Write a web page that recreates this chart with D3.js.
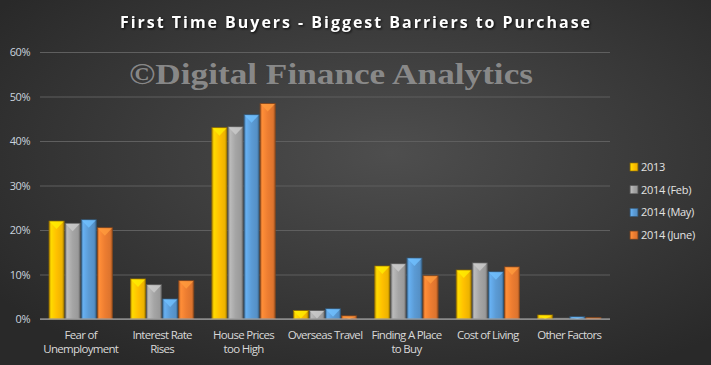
<!DOCTYPE html>
<html>
<head>
<meta charset="utf-8">
<script src="https://cdn.jsdelivr.net/npm/d3@7"></script>
<style>
  body { margin: 0; background: #2b2b2b; }
  svg { display: block; }
</style>
</head>
<body>
<div class="chart"></div>
<script>
const categories = [
  ["Fear of", "Unemployment"],
  ["Interest Rate", "Rises"],
  ["House Prices", "too High"],
  ["Overseas Travel"],
  ["Finding A Place", "to Buy"],
  ["Cost of Living"],
  ["Other Factors"]
]
const seriesNames = ["2013", "2014 (Feb)", "2014 (May)", "2014 (June)"]
const s2013 = [22.0, 9.0, 43.0, 1.9, 11.9, 11.0, 0.9]
const sFeb  = [21.5, 7.7, 43.2, 1.9, 12.4, 12.6, 0.2]
const sMay  = [22.3, 4.5, 45.9, 2.3, 13.7, 10.6, 0.5]
const sJune = [20.5, 8.6, 48.4, 0.7, 9.7, 11.7, 0.3]
const yTicks = [0, 10, 20, 30, 40, 50, 60]

const seriesValues = [s2013, sFeb, sMay, sJune]
const colors = ["#FFC000", "#A5A5A5", "#5B9BD5", "#ED7D31"]

const width = 711, height = 365
const margin = {top: 52, right: 101, bottom: 46, left: 40}

const svg = d3.select(".chart").append("svg")
  .attr("width", width)
  .attr("height", height)

const defs = svg.append("defs")

const bg = defs.append("radialGradient").attr("id", "bg")
  .attr("cx", "55%").attr("cy", "42%").attr("r", "68%")
bg.append("stop").attr("offset", "0%").attr("stop-color", "#4e4e4e")
bg.append("stop").attr("offset", "100%").attr("stop-color", "#292929")

colors.forEach((c, i) => {
  const g = defs.append("linearGradient").attr("id", "bar" + i)
    .attr("x1", "0%").attr("x2", "100%").attr("y1", "0%").attr("y2", "0%")
  const col = d3.color(c)
  g.append("stop").attr("offset", "0%").attr("stop-color", col.darker(0.8))
  g.append("stop").attr("offset", "14%").attr("stop-color", col.brighter(0.35))
  g.append("stop").attr("offset", "50%").attr("stop-color", c)
  g.append("stop").attr("offset", "86%").attr("stop-color", col.darker(0.2))
  g.append("stop").attr("offset", "100%").attr("stop-color", col.darker(1.1))
})

svg.append("rect")
  .attr("width", width)
  .attr("height", height)
  .attr("fill", "url(#bg)")

let xScale = d3.scaleBand()
  .domain(d3.range(categories.length))
  .range([margin.left, width - margin.right])
  .paddingInner(0.21)
  .paddingOuter(0.105)

let xInner = d3.scaleBand()
  .domain(d3.range(seriesNames.length))
  .range([0, xScale.bandwidth()])

let yScale = d3.scaleLinear().domain([0, 60]).range([height - margin.bottom, margin.top])

// gridlines + y labels
let yaxis = svg.append("g")
  .attr("class", "y axis")
  .attr("transform", "translate(" + margin.left + ",0)")
  .call(d3.axisLeft(yScale)
    .tickValues(yTicks)
    .tickFormat(d => d + "%")
    .tickSizeInner(-(width - margin.left - margin.right))
    .tickSizeOuter(0)
    .tickPadding(10))
yaxis.select(".domain").remove()
yaxis.selectAll(".tick line").attr("stroke", "#5f5f5f").attr("stroke-width", 1)
yaxis.selectAll("text")
  .attr("fill", "#c9d3de")
  .style("font-family", "'Open Sans', sans-serif")
  .style("font-size", "11px")
  .style("letter-spacing", "-0.5px")

// watermark
svg.append("text")
  .attr("x", 331)
  .attr("y", 84)
  .attr("text-anchor", "middle")
  .attr("fill", "#939393")
  .attr("fill-opacity", 0.9)
  .style("font-family", "'Liberation Serif', serif")
  .style("font-weight", "bold")
  .style("font-size", "30px")
  .attr("textLength", 404)
  .attr("lengthAdjust", "spacingAndGlyphs")
  .text("\u00A9Digital Finance Analytics")

// bars
const groups = svg.append("g").selectAll("g")
  .data(categories.map((c, i) => i))
  .join("g")
  .attr("transform", i => "translate(" + xScale(i) + ",0)")

groups.each(function(ci) {
  const g = d3.select(this)
  seriesValues.forEach((vals, si) => {
    const x = xInner(si), w = xInner.bandwidth()
    const y = yScale(vals[ci]), y0 = yScale(0)
    const h = y0 - y
    const col = d3.color(colors[si])
    g.append("rect")
      .attr("x", x + 0.5)
      .attr("y", y)
      .attr("width", w - 1)
      .attr("height", h)
      .attr("fill", "url(#bar" + si + ")")
      .attr("stroke", col.darker(1.6))
      .attr("stroke-width", 0.8)
    // bevel highlight on top
    const bev = Math.min(8, h)
    if (h > 1.5) {
      g.append("path")
        .attr("d", d3.line()([
          [x + 1, y + 0.5],
          [x + w - 1, y + 0.5],
          [x + w / 2, y + bev]
        ]) + "Z")
        .attr("fill", col.brighter(0.6))
        .attr("fill-opacity", 0.8)
    }
  })
})

// x axis line
svg.append("line")
  .attr("x1", margin.left).attr("x2", width - margin.right)
  .attr("y1", yScale(0)).attr("y2", yScale(0))
  .attr("stroke", "#b5b5b5").attr("stroke-width", 1.2)

// category labels
const labels = svg.append("g").selectAll("text")
  .data(categories)
  .join("text")
  .attr("x", (d, i) => xScale(i) + xScale.bandwidth() / 2)
  .attr("y", yScale(0) + 20)
  .attr("text-anchor", "middle")
  .attr("fill", "#d9d9d9")
  .style("font-family", "'Open Sans', sans-serif")
  .style("font-size", "11.5px")
  .style("letter-spacing", "-0.7px")
labels.selectAll("tspan")
  .data(d => d)
  .join("tspan")
  .attr("x", function() { return d3.select(this.parentNode).attr("x") })
  .attr("dy", (d, i) => i === 0 ? 0 : 14)
  .text(d => d)

// title
svg.append("text")
  .attr("x", 355)
  .attr("y", 28)
  .attr("text-anchor", "middle")
  .attr("fill", "#ffffff")
  .style("font-family", "'Open Sans', sans-serif")
  .style("font-weight", "bold")
  .style("font-size", "16px")
  .style("filter", "drop-shadow(1px 1px 1px rgba(0,0,0,0.8))")
  .attr("textLength", 470)
  .attr("lengthAdjust", "spacing")
  .text("First Time Buyers - Biggest Barriers to Purchase")

// legend
const legend = svg.append("g").selectAll("g")
  .data(seriesNames)
  .join("g")
  .attr("transform", (d, i) => "translate(630," + (167 + i * 22.7) + ")")
legend.append("rect")
  .attr("x", 0).attr("y", -4)
  .attr("width", 8).attr("height", 8)
  .attr("fill", (d, i) => "url(#bar" + i + ")")
  .attr("stroke", (d, i) => d3.color(colors[i]).darker(1.5))
  .attr("stroke-width", 0.6)
legend.append("text")
  .attr("x", 11)
  .attr("y", 4)
  .attr("fill", "#e3e3e3")
  .style("font-family", "'Open Sans', sans-serif")
  .style("font-size", "11px")
  .style("letter-spacing", "-0.3px")
  .text(d => d)
</script>
</body>
</html>
